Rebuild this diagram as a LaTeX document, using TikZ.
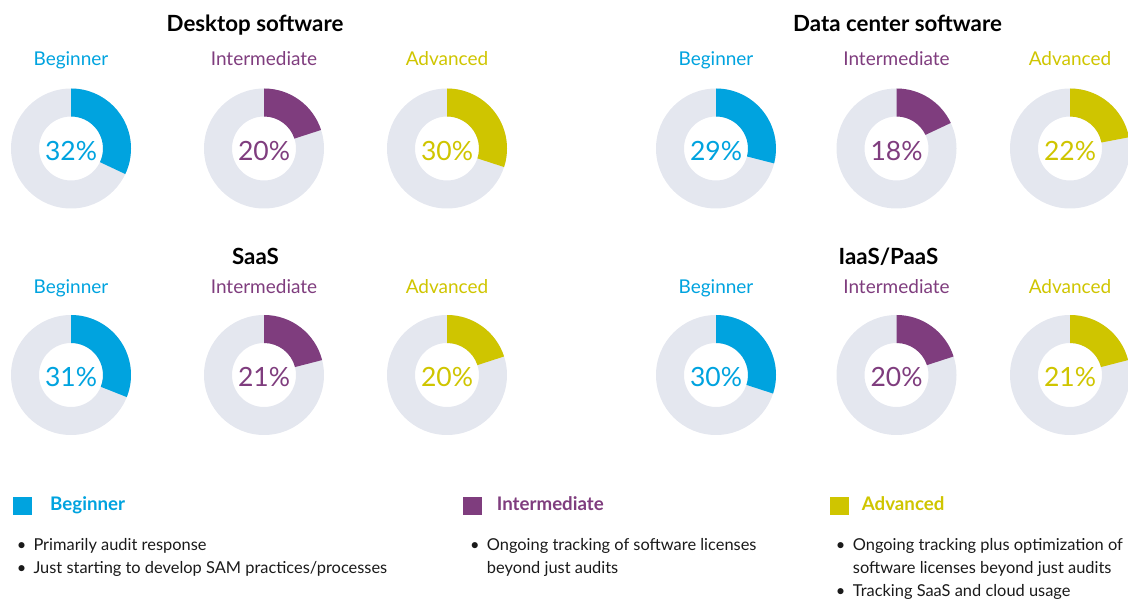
\documentclass[tikz,border=0pt]{standalone}
\usepackage{fontspec}
\setmainfont{Lato}
\usetikzlibrary{calc}
\definecolor{cbeg}{HTML}{00A3DF}
\definecolor{cint}{HTML}{7F3D7E}
\definecolor{cadv}{HTML}{CFC500}
\definecolor{ring}{HTML}{E4E7EF}
\definecolor{txt}{HTML}{1A1A1A}
\tikzset{
  ttl/.style={font=\fontsize{22.3}{26}\selectfont\bfseries, text=black, inner sep=0, anchor=base},
  lvl/.style={font=\fontsize{19}{23}\selectfont, inner sep=0, anchor=base},
  pct/.style={font=\fontsize{26.5}{30}\selectfont, inner sep=0, anchor=base},
  leg/.style={font=\fontsize{18.7}{22}\selectfont\bfseries, inner sep=0, anchor=base west},
  sq/.style={minimum width=19pt, minimum height=18pt, inner sep=0},
  itm/.style={font=\fontsize{16.4}{19}\selectfont, text=txt, inner sep=0, anchor=base west},
  bul/.style={font=\fontsize{16.4}{19}\selectfont, text=txt, inner sep=0, anchor=base},
}
\newcommand\donut[5]{%
  \fill[ring, even odd rule] (#2,#3) circle (60) (#2,#3) circle (32);
  \pgfmathsetmacro\dang{90-3.6*#4}
  \fill[#5] (#2,#3) ++(90:60) arc[start angle=90, end angle=\dang, radius=60] -- ($(#2,#3)+(\dang:32)$) arc[start angle=\dang, end angle=90, radius=32] -- cycle;
  \node[pct, text=#5] (p#1) at ($(#2,#3)+(0,-12)$) {#4\%};
}
\begin{document}
\begin{tikzpicture}[x=1pt, y=1pt]
\useasboundingbox (0,0) rectangle (1128,600);

% titles
\node[ttl] (tDesk) at (255,568.3) {Desktop software};
\node[ttl] (tData) at (897.5,568.3) {Data center software};
\node[ttl] (tSaas) at (255.5,335.5) {SaaS};
\node[ttl] (tIaas) at (888.5,335.5) {IaaS/PaaS};

% level labels row 1
\node[lvl, text=cbeg] (lD1) at (71,534.3) {Beginner};
\node[lvl, text=cint] (lD2) at (264,534.3) {Intermediate};
\node[lvl, text=cadv] (lD3) at (447,534.3) {Advanced};
\node[lvl, text=cbeg] (lC1) at (716,534.3) {Beginner};
\node[lvl, text=cint] (lC2) at (896.5,534.3) {Intermediate};
\node[lvl, text=cadv] (lC3) at (1070,534.3) {Advanced};
% level labels row 2
\node[lvl, text=cbeg] (lS1) at (71,306) {Beginner};
\node[lvl, text=cint] (lS2) at (264,306) {Intermediate};
\node[lvl, text=cadv] (lS3) at (447,306) {Advanced};
\node[lvl, text=cbeg] (lI1) at (716,306) {Beginner};
\node[lvl, text=cint] (lI2) at (896.5,306) {Intermediate};
\node[lvl, text=cadv] (lI3) at (1070,306) {Advanced};

% donuts
\donut{D1}{71}{451.5}{32}{cbeg}
\donut{D2}{264}{451.5}{20}{cint}
\donut{D3}{447}{451.5}{30}{cadv}
\donut{C1}{716}{451.5}{29}{cbeg}
\donut{C2}{896.5}{451.5}{18}{cint}
\donut{C3}{1070}{451.5}{22}{cadv}
\donut{S1}{71}{225}{31}{cbeg}
\donut{S2}{264}{225}{21}{cint}
\donut{S3}{447}{225}{20}{cadv}
\donut{I1}{716}{225}{30}{cbeg}
\donut{I2}{896.5}{225}{20}{cint}
\donut{I3}{1070}{225}{21}{cadv}

% legend
\node[sq, fill=cbeg] (sqB) at (22.2,94) {};
\node[leg, text=cbeg] (gB) at (50,89.3) {Beginner};
\node[sq, fill=cint] (sqI) at (472.5,94) {};
\node[leg, text=cint] (gI) at (496.7,89.3) {Intermediate};
\node[sq, fill=cadv] (sqA) at (839.2,94) {};
\node[leg, text=cadv] (gA) at (861.7,89.3) {Advanced};

% beginner items
\node[bul] (bB1) at (21.7,49.3) {\textbullet};
\node[itm] (iB1) at (33.3,49.3) {Primarily audit response};
\node[bul] (bB2) at (21.7,26.2) {\textbullet};
\node[itm] (iB2) at (33.3,26.2) {Just starting to develop SAM practices/processes};
% intermediate items
\node[bul] (bI1) at (475,49.3) {\textbullet};
\node[itm] (iI1) at (486.7,49.3) {Ongoing tracking of software licenses};
\node[itm] (iI1b) at (486.7,26.2) {beyond just audits};
% advanced items
\node[bul] (bA1) at (840.7,49.3) {\textbullet};
\node[itm] (iA1) at (852.7,49.3) {Ongoing tracking plus optimization of};
\node[itm] (iA1b) at (852.7,26.2) {software licenses beyond just audits};
\node[bul] (bA2) at (840.7,3) {\textbullet};
\node[itm] (iA2) at (852.7,3) {Tracking SaaS and cloud usage};
\end{tikzpicture}
\end{document}
